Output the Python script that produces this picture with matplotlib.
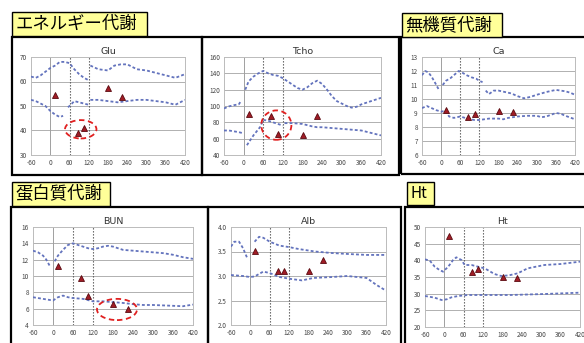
import numpy as np
import matplotlib
matplotlib.use("Agg")
import matplotlib.pyplot as plt
from matplotlib.patches import Rectangle, Ellipse

plt.rcParams['font.family'] = ['Noto Sans CJK JP', 'DejaVu Sans']

nan = np.nan
W, H = 584, 343

# ---------------- data ----------------
x_ticks = [-60, 0, 60, 120, 180, 240, 300, 360, 420]
times = [15, 85, 105, 180, 225]

# Glu
glu_up_x = [-60, -45, -30, -15, 0, 15, 30, 45, 60, 75, 90, 105, 120, nan, 125, 150, 180, 200, 220, 240, 270, 300, 330, 360, 390, 420]
glu_up_y = [62, 61.5, 62.5, 64, 65.5, 66.5, 68, 68, 67.5, 65, 63, 61.5, 60.5, nan, 66.5, 65, 64.5, 66.5, 67, 67, 65, 64.5, 63.5, 62.5, 61.5, 63]
glu_lo_x = [-60, -45, -30, -15, 0, 15, 30, 40, nan, 55, 60, 75, 90, 105, 120, nan, 125, 150, 180, 210, 240, 270, 300, 330, 360, 390, 420]
glu_lo_y = [52.5, 52, 51, 50, 48, 46.5, 45.5, 46, nan, 49.5, 50, 52, 51.5, 51, 50.5, nan, 52.5, 52.5, 52, 51.5, 52, 52.5, 52.5, 52, 51.5, 50.5, 52.5]
glu_pts = [54.3, 38.9, 41.2, 57.3, 53.5]

# Tcho
tcho_up_x = [-60, -45, -30, -15, -8, nan, 5, 15, 30, 45, 60, 75, 90, 105, 120, 135, 150, 165, 180, 195, 210, 225, 240, 255, 270, 285, 300, 315, 330, 345, 360, 375, 390, 420]
tcho_up_y = [97, 99.5, 101, 102, 106, nan, 120, 130, 136, 140, 143, 140, 138, 137, 134, 130, 126, 122, 120, 123, 128, 131, 127, 120, 112, 106, 103, 100, 98, 99, 102, 104, 106, 110]
tcho_lo_x = [-60, -45, -30, -15, -5, nan, 10, 20, 30, 40, 50, 60, 75, 90, 105, 120, nan, 125, 150, 180, 210, 225, 240, 270, 300, 330, 360, 390, 420]
tcho_lo_y = [70, 70, 69, 68, 67, nan, 52, 58, 64, 69, 74, 83, 82, 80, 78, 76, nan, 79, 79, 78, 75, 74, 74, 73, 72, 71, 70, 67, 64]
tcho_pts = [90, 88, 66, 64, 88]

# Ca
ca_up_x = [-60, -50, -40, -30, -20, -8, nan, 5, 15, 30, 45, 55, 65, 80, 95, 110, 120, 130, nan, 140, 150, 165, 180, 200, 220, 240, 260, 280, 300, 330, 360, 375, 390, 405, 420]
ca_up_y = [11.7, 12.0, 11.9, 11.6, 11.2, 10.7, nan, 11.0, 11.3, 11.5, 11.8, 12.0, 11.9, 11.7, 11.55, 11.45, 11.3, 11.2, nan, 10.6, 10.35, 10.6, 10.6, 10.5, 10.4, 10.2, 10.05, 10.15, 10.3, 10.5, 10.65, 10.6, 10.55, 10.45, 10.3]
ca_lo_x = [-60, -45, -30, -15, 0, 15, 25, 40, 60, 75, 90, 105, 120, 150, 180, 195, 210, 240, 270, 300, 315, 330, 360, 375, 390, 420]
ca_lo_y = [9.35, 9.5, 9.35, 9.2, 9.1, 9.15, 8.75, 8.65, 8.75, 8.65, 8.55, 8.5, 8.5, 8.6, 8.6, 8.55, 8.65, 8.75, 8.8, 8.8, 8.7, 8.75, 9.0, 8.95, 8.8, 8.55]
ca_pts = [9.23, 8.7, 8.94, 9.15, 9.06]

# BUN
bun_up_x = [-60, -45, -30, -20, -8, nan, 5, 15, 30, 45, 60, 75, 90, 105, 120, 135, 150, 165, 180, 210, 240, 270, 300, 330, 360, 390, 420]
bun_up_y = [13.1, 12.9, 12.5, 12.0, 11.1, nan, 11.8, 12.5, 13.2, 13.8, 14.0, 13.8, 13.6, 13.4, 13.3, 13.4, 13.6, 13.7, 13.6, 13.2, 13.1, 13.0, 12.9, 12.8, 12.6, 12.3, 12.1]
bun_lo_x = [-60, -30, 0, 15, 30, 45, 60, 90, 120, 150, 180, 210, 240, 270, 300, 330, 360, 390, 420]
bun_lo_y = [7.4, 7.2, 7.0, 7.4, 7.6, 7.4, 7.3, 7.2, 6.9, 6.9, 6.8, 6.7, 6.55, 6.45, 6.45, 6.4, 6.35, 6.3, 6.5]
bun_pts = [11.2, 9.7, 7.5, 6.6, 5.9]

# Alb
alb_up_x = [-60, -50, -35, -23, -10, nan, 13, 27, 40, 60, 90, 120, 150, 200, 250, 300, 360, 420]
alb_up_y = [3.6, 3.7, 3.7, 3.57, 3.37, nan, 3.7, 3.8, 3.78, 3.7, 3.62, 3.59, 3.55, 3.5, 3.47, 3.45, 3.43, 3.43]
alb_lo_x = [-60, -23, -2, 13, 40, 60, 90, 125, 160, 195, 255, 300, 360, 390, 420]
alb_lo_y = [3.02, 3.0, 2.98, 2.99, 3.09, 3.06, 2.98, 2.94, 2.91, 2.96, 2.98, 3.0, 2.96, 2.82, 2.7]
alb_pts = [3.52, 3.11, 3.11, 3.11, 3.32]

# Ht
ht_up_x = [-60, -45, -30, -15, -4, 12, 27, 37, 53, 63, 84, 104, 125, 155, 176, 200, 227, 258, 310, 360, 420]
ht_up_y = [40.3, 39.9, 38.1, 37.1, 36.6, 38.1, 40.1, 40.9, 40.1, 38.6, 38.6, 38.1, 37.6, 35.9, 35.3, 35.5, 36.1, 37.6, 38.6, 38.9, 39.6]
ht_lo_x = [-60, -30, -9, 7, 22, 43, 73, 125, 205, 310, 420]
ht_lo_y = [29.3, 28.8, 28.1, 28.3, 28.9, 29.3, 29.6, 29.6, 29.6, 29.9, 30.3]
ht_pts = [47.4, 36.6, 37.4, 35.1, 34.6]

# ---------------- layout ----------------
fig = plt.figure(figsize=(W / 100, H / 100), dpi=100)
fig.patch.set_facecolor('white')


def fx(x):
    return x / W


def fy(y):
    return 1 - y / H


def box(x0, y0, x1, y1, lw=1.6, fc='none', z=1):
    r = Rectangle((fx(x0), fy(y1)), fx(x1) - fx(x0), fy(y0) - fy(y1),
                  transform=fig.transFigure, fill=(fc != 'none'), facecolor=fc,
                  edgecolor='black', linewidth=lw, zorder=z)
    fig.add_artist(r)


def label(x0, y0, x1, y1, text, size=12.5):
    box(x0, y0, x1, y1, lw=1.0, fc='#ffff99', z=3)
    fig.text(fx(x0) + 0.006, fy((y0 + y1) / 2), text, fontsize=size,
             ha='left', va='center', color='black', zorder=4)


LINE = '#6373bd'


def panel(rect, title, ylim, yticks, ylabels, up, lo, pts, ell=None):
    x0, y0, x1, y1 = rect
    ax = fig.add_axes([fx(x0), fy(y1), fx(x1) - fx(x0), fy(y0) - fy(y1)])
    ax.set_xlim(-60, 420)
    ax.set_ylim(*ylim)
    ax.set_xticks(x_ticks)
    ax.set_xticklabels([str(t) for t in x_ticks])
    ax.set_yticks(yticks)
    ax.set_yticklabels(ylabels)
    ax.tick_params(length=0, labelsize=4.6, colors='#444444', pad=3)
    for s in ax.spines.values():
        s.set_color('#bbbbbb')
        s.set_linewidth(0.7)
    for yt in yticks[1:-1]:
        ax.axhline(yt, color='#b0b0b0', lw=0.7, zorder=1)
    ax.axvline(0, color='#a0a0a0', lw=0.7, zorder=1)
    for xv in (60, 120):
        ax.axvline(xv, color='#555555', lw=0.8, ls=(0, (1.2, 1.5)), zorder=2)
    ax.plot(up[0], up[1], color=LINE, lw=1.3, ls=(0, (1.6, 1.2)), zorder=3)
    ax.plot(lo[0], lo[1], color=LINE, lw=1.3, ls=(0, (1.6, 1.2)), zorder=3)
    ax.plot(times, pts, ls='none', marker='^', ms=5, color='#a01c25',
            mec='#5a0a10', mew=0.6, zorder=5)
    if ell is not None:
        e = Ellipse((ell[0], ell[1]), ell[2], ell[3], fill=False,
                    edgecolor='#e02020', lw=1.3, ls=(0, (3, 2)), zorder=6)
        ax.add_patch(e)
    ax.set_title(title, fontsize=6.8, color='#333333', pad=2,
                 family=['DejaVu Sans'])
    return ax


# panel frames
box(12, 37, 202, 175)
box(202, 37, 399, 175)
box(401, 37, 586, 174)
box(11, 207, 208, 346)
box(208, 207, 401, 346)
box(405, 207, 586, 346)

panel((31, 57, 185, 155), 'Glu', (30, 70), [30, 40, 50, 60, 70],
      ['30', '40', '50', '60', '70'],
      (glu_up_x, glu_up_y), (glu_lo_x, glu_lo_y), glu_pts,
      ell=(95, 40.5, 98, 7.5))
panel((224, 57, 381, 155), 'Tcho', (40, 160), [40, 60, 80, 100, 120, 140, 160],
      ['40', '60', '80', '100', '120', '140', '160'],
      (tcho_up_x, tcho_up_y), (tcho_lo_x, tcho_lo_y), tcho_pts,
      ell=(100, 76.6, 92, 36))
panel((422, 57, 575, 155), 'Ca', (6, 13), [6, 7, 8, 9, 10, 11, 12, 13],
      ['6', '7', '8', '9', '10', '11', '12', '13'],
      (ca_up_x, ca_up_y), (ca_lo_x, ca_lo_y), ca_pts)
panel((33, 227, 193, 325), 'BUN', (4, 16), [4, 6, 8, 10, 12, 14, 16],
      ['4', '6', '8', '10', '12', '14', '16'],
      (bun_up_x, bun_up_y), (bun_lo_x, bun_lo_y), bun_pts,
      ell=(192, 5.9, 120, 2.6))
panel((231, 227, 386, 325), 'Alb', (2.0, 4.0), [2.0, 2.5, 3.0, 3.5, 4.0],
      ['2.0', '2.5', '3.0', '3.5', '4.0'],
      (alb_up_x, alb_up_y), (alb_lo_x, alb_lo_y), alb_pts)
panel((425, 227, 580, 327), 'Ht', (20, 50), [20, 25, 30, 35, 40, 45, 50],
      ['20', '25', '30', '35', '40', '45', '50'],
      (ht_up_x, ht_up_y), (ht_lo_x, ht_lo_y), ht_pts)

label(12, 12, 147, 36, 'エネルギー代謝')
label(402, 13, 502, 37, '無機質代謝')
label(12, 182, 110, 206, '蛋白質代謝')
label(407, 182, 434, 205, 'Ht', size=11)

fig.savefig('out.png', dpi=100)
